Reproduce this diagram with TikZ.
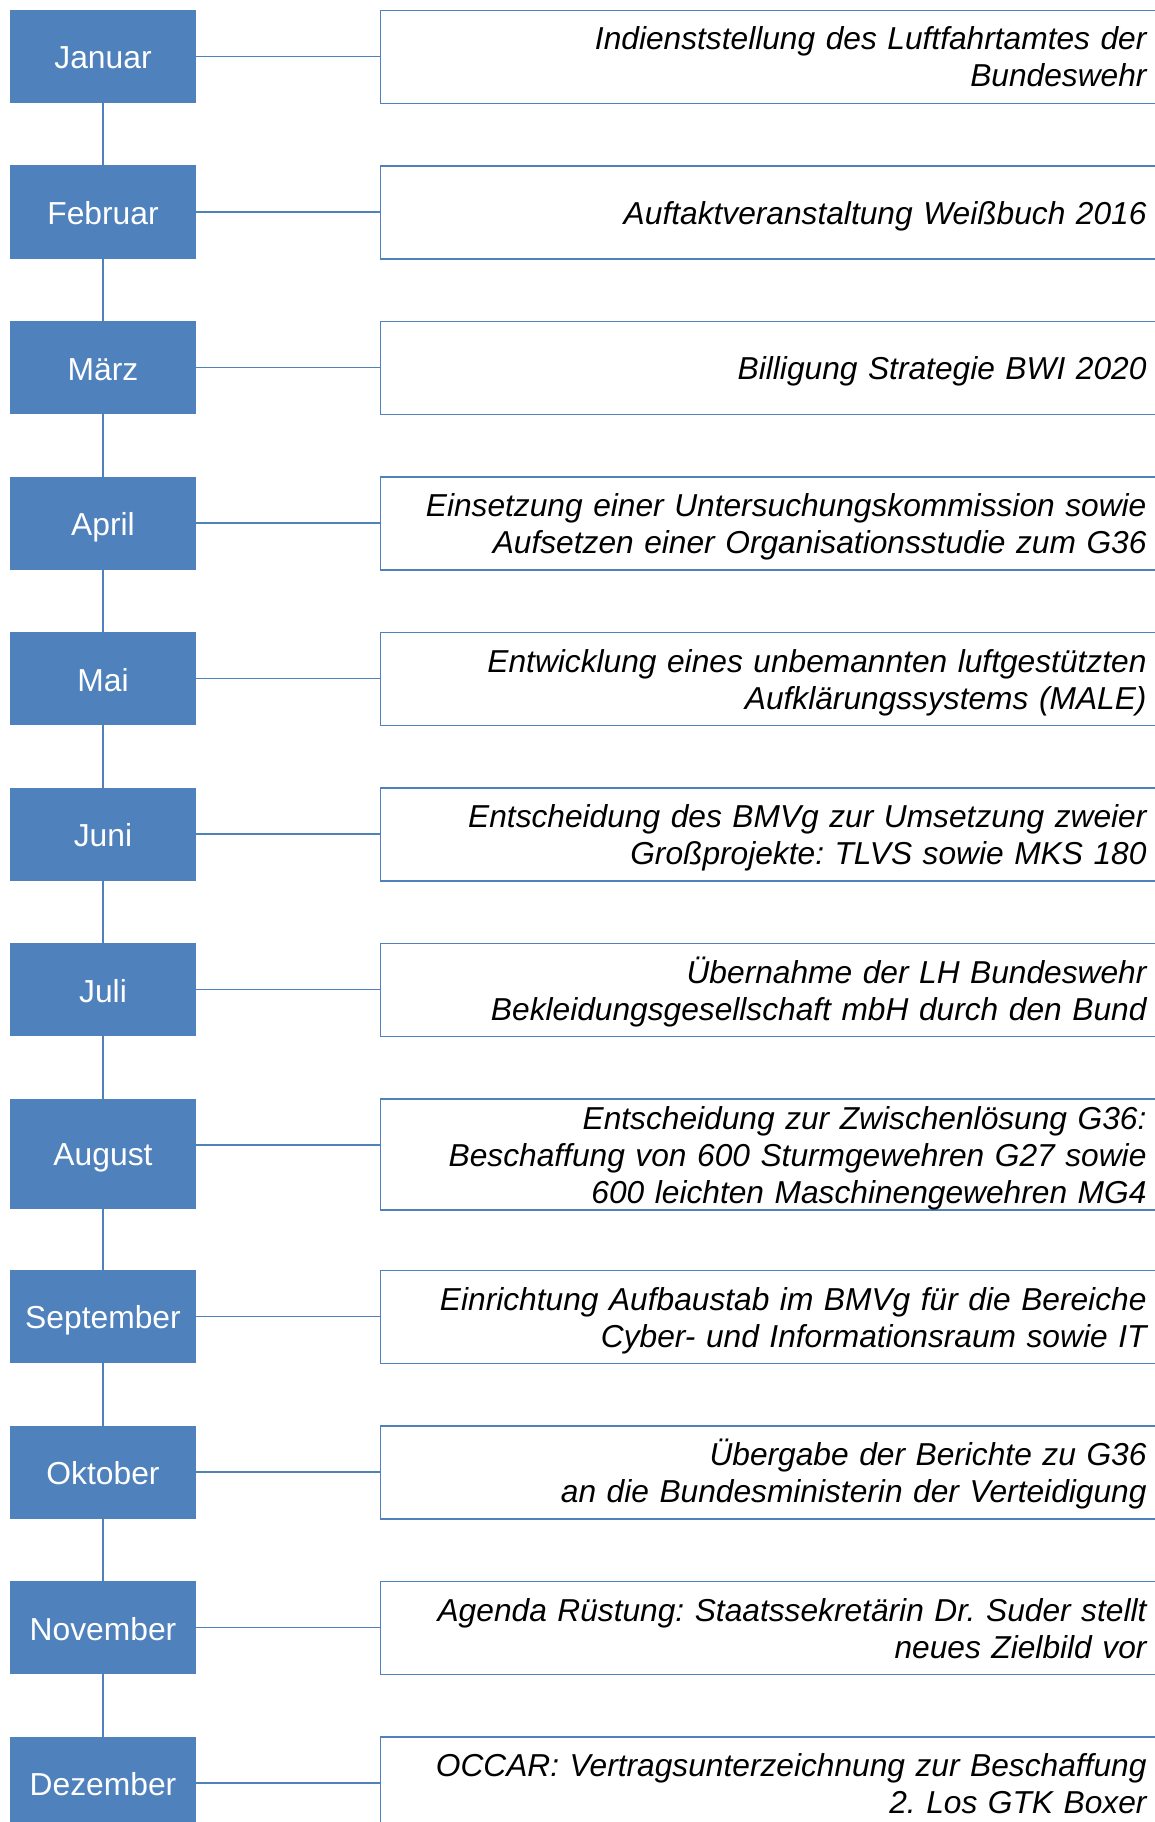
\documentclass[tikz,border=0pt]{standalone}
\usepackage{fontspec}
\setmainfont{Liberation Sans}
\definecolor{tlblue}{HTML}{4F81BD}
\newcommand{\tlstrut}{\rule[-7pt]{0pt}{37pt}}
\newcommand{\tlmstrut}{\rule[-6pt]{0pt}{37pt}}
\begin{document}
\frenchspacing
\begin{tikzpicture}[x=1pt,y=-1pt,
  month/.style={fill=tlblue, draw=none, text=white, minimum width=186pt,
    minimum height=93pt, anchor=north west, inner sep=0pt, outer sep=0pt,
    font=\fontsize{31.8}{37}\selectfont,
    execute at begin node={\tlmstrut}},
  event/.style={draw=tlblue, line width=1.8pt, minimum width=790pt,
    minimum height=93pt, anchor=north west, inner xsep=24pt, inner ysep=0pt,
    outer sep=0pt, text width=742pt, align=right,
    font=\fontsize{31.7}{37}\selectfont\itshape\frenchspacing,
    execute at begin node={\tlstrut}, execute at end node={\tlstrut}},
  link/.style={draw=tlblue, line width=1.8pt}]
\useasboundingbox (0,0) rectangle (1155,1822);
\clip (0,0) rectangle (1155,1822);

\node[month] (m1) at (10,10) {Januar};
\node[month] (m2) at (10,165.5) {Februar};
\node[month] (m3) at (10,321) {März};
\node[month] (m4) at (10,476.5) {April};
\node[month] (m5) at (10,632) {Mai};
\node[month] (m6) at (10,787.5) {Juni};
\node[month] (m7) at (10,943) {Juli};
\node[month, minimum height=110pt] (m8) at (10,1098.5) {August};
\node[month] (m9) at (10,1270) {September};
\node[month] (m10) at (10,1425.5) {Oktober};
\node[month] (m11) at (10,1581) {November};
\node[month] (m12) at (10,1736.5) {Dezember};

\node[event] (r1) at (380.5,10.5) {Indienststellung des Luftfahrtamtes der\\Bundeswehr};
\node[event] (r2) at (380.5,166) {Auftaktveranstaltung Weißbuch 2016};
\node[event] (r3) at (380.5,321.5) {Billigung Strategie BWI 2020};
\node[event] (r4) at (380.5,477) {Einsetzung einer Untersuchungskommission sowie\\Aufsetzen einer Organisationsstudie zum G36};
\node[event] (r5) at (380.5,632.5) {Entwicklung eines unbemannten luftgestützten\\Aufklärungssystems (MALE)};
\node[event] (r6) at (380.5,788) {Entscheidung des BMVg zur Umsetzung zweier\\Großprojekte: TLVS sowie MKS 180};
\node[event] (r7) at (380.5,943.5) {Übernahme der LH Bundeswehr\\Bekleidungsgesellschaft mbH durch den Bund};
\node[event, minimum height=110pt] (r8) at (380.5,1099) {Entscheidung zur Zwischenlösung G36:\\Beschaffung von 600 Sturmgewehren G27 sowie\\600 leichten Maschinengewehren MG4};
\node[event] (r9) at (380.5,1270.5) {Einrichtung Aufbaustab im BMVg für die Bereiche\\Cyber- und Informationsraum sowie IT};
\node[event] (r10) at (380.5,1426) {Übergabe der Berichte zu G36\\an die Bundesministerin der Verteidigung};
\node[event] (r11) at (380.5,1581.5) {Agenda Rüstung: Staatssekretärin Dr. Suder stellt\\neues Zielbild vor};
\node[event] (r12) at (380.5,1737) {OCCAR: Vertragsunterzeichnung zur Beschaffung\\2. Los GTK Boxer};

\foreach \i in {1,...,12}{
  \coordinate (c\i) at ([yshift=-46.5pt]m\i.north east);
  \draw[link] (c\i) -- (c\i -| r\i.west);
}
\foreach \i/\j in {1/2,2/3,3/4,4/5,5/6,6/7,7/8,8/9,9/10,10/11,11/12}{
  \draw[link] (m\i.south) -- (m\j.north);
}
\end{tikzpicture}
\end{document}
